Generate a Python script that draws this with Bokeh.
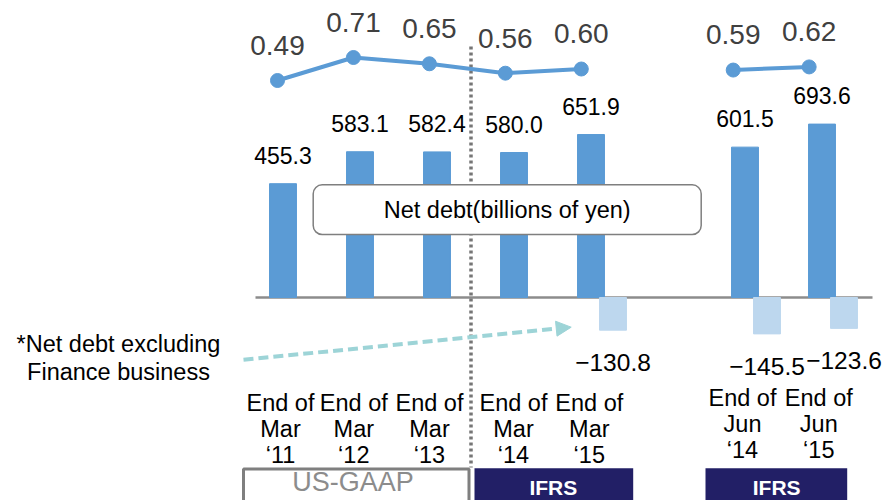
import math
from bokeh.plotting import figure
from bokeh.models import Range1d, BoxAnnotation, Label, Arrow, NormalHead
from bokeh.core.properties import value
from bokeh.embed import file_html
from bokeh.resources import INLINE

# ---------------- data ----------------
cat_index = [0, 1, 2, 3, 4, 6, 7]            # slot 5 is an empty gap
cat_months = ["Mar", "Mar", "Mar", "Mar", "Mar", "Jun", "Jun"]
cat_years = ["‘11", "‘12", "‘13", "‘14", "‘15", "‘14", "‘15"]
net_debt = [455.3, 583.1, 582.4, 580.0, 651.9, 601.5, 693.6]
excl_index = [4, 6, 7]
excl_fin = [-130.8, -145.5, -123.6]
ratio = [0.49, 0.71, 0.65, 0.56, 0.60, 0.59, 0.62]

FNAME = "Liberation Sans"
FONT = value(FNAME)
BLUE = "#5B9BD5"
LIGHT = "#BDD7EE"
NAVY = "#221F66"
GRAY = "#8C8C8C"

W, H = 886, 500
# pixel mapping helpers (used only for decorations)
BAR_X0, BAR_DX = 282.5, 77.0
BASE_PY, PX_PER_UNIT = 297.0, 0.25


def px2x(px):
    return (px - BAR_X0) / BAR_DX


def py2y(py):
    return (BASE_PY - py) / PX_PER_UNIT


def bfix(fs):
    # renderer places alphabetic baseline slightly low; compensate
    return 0.36 * fs


x0 = -BAR_X0 / BAR_DX
p = figure(width=W, height=H, output_backend="svg", toolbar_location=None,
           x_axis_type=None, y_axis_type=None, min_border=0,
           x_range=Range1d(x0, x0 + W / BAR_DX),
           y_range=Range1d(-(H - BASE_PY) / PX_PER_UNIT, BASE_PY / PX_PER_UNIT))
p.grid.visible = False
p.outline_line_color = None
p.background_fill_color = "white"
p.border_fill_color = "white"

# ratio scale (line), slightly different horizontal spacing
LX0, LDX = 277.0, 75.95
lx0 = -LX0 / LDX
p.extra_x_ranges = {"lx": Range1d(lx0, lx0 + W / LDX)}
R0_PY, R_PX = 80.0, 104.5
rtop = 0.49 + R0_PY / R_PX
p.extra_y_ranges = {"r": Range1d(rtop - H / R_PX, rtop)}

# baseline
p.segment(x0=[px2x(255)], y0=[0], x1=[px2x(872)], y1=[0], line_color=GRAY, line_width=2.5)

# bars
p.vbar(x=cat_index, top=net_debt, bottom=0, width=0.35, color=BLUE)
excl_x = [i + 22 / BAR_DX for i in excl_index]
p.vbar(x=excl_x, top=0, bottom=excl_fin, width=0.35, color=LIGHT)

# separator (dotted)
p.segment(x0=[px2x(470.5)], y0=[py2y(46)], x1=[px2x(470.5)], y1=[py2y(467)],
          line_color="#767676", line_width=3.5, line_dash="3 3")

# bar labels
p.text(x=cat_index, y=net_debt, text=[f"{v:.1f}" for v in net_debt],
       text_align="center", text_baseline="alphabetic", y_offset=-20 - bfix(23),
       text_font=FONT, text_font_size="23px", text_color="black")
p.text(x=excl_x, y=excl_fin, text=[f"−{abs(v):.1f}" for v in excl_fin],
       text_align="center", text_baseline="alphabetic", y_offset=41 - bfix(24.5),
       text_font=FONT, text_font_size="24.5px", text_color="black")

# ratio line with a gap at slot 5
lx, ly = [], []
prev = None
for i, r in zip(cat_index, ratio):
    if prev is not None and i - prev > 1:
        lx.append(math.nan)
        ly.append(math.nan)
    lx.append(i)
    ly.append(r)
    prev = i
p.line(x=lx, y=ly, x_range_name="lx", y_range_name="r", line_color=BLUE, line_width=4)
p.scatter(x=cat_index, y=ratio, x_range_name="lx", y_range_name="r",
          marker="circle", size=14, color=BLUE)
p.text(x=cat_index, y=ratio, x_range_name="lx", y_range_name="r",
       text=[f"{v:.2f}" for v in ratio], text_align="center", text_baseline="alphabetic",
       y_offset=-25 - bfix(28), text_font=FONT, text_font_size="28px", text_color="#404040")

# category labels
cx_off = [-2.5, -6.2, -7.5, -0.5, -1.7, -2.5, -3.2]
row_shift = [0 if m == "Mar" else -5 for m in cat_months]
for k, rows in enumerate([["End of"] * len(cat_index), cat_months, cat_years]):
    p.text(x=cat_index, y=[0] * len(cat_index), text=rows,
           x_offset=cx_off, y_offset=[113.5 + 26 * k + s - bfix(23.5) for s in row_shift],
           text_align="center", text_baseline="alphabetic",
           text_font=FONT, text_font_size="23.5px", text_color="black")


def label(x_px, y_px, text, fs, **kw):
    p.add_layout(Label(x=px2x(x_px), y=py2y(y_px - bfix(fs)), text=text, text_align="center",
                       text_baseline="alphabetic", text_font=FNAME,
                       text_font_size=f"{fs}px", **kw))


# legend-like box
p.add_layout(BoxAnnotation(left=px2x(312.7), right=px2x(700.7), top=py2y(184.3), bottom=py2y(234),
                           fill_color="white", fill_alpha=1, line_color="#7F7F7F",
                           line_alpha=1, line_width=1.5, border_radius=9))
label(506.7, 218.3, "Net debt(billions of yen)", 23.5, text_color="black")

# note and arrow
label(118, 351.7, "*Net debt excluding", 23.5, text_color="black")
label(118, 380.0, "Finance business", 23.5, text_color="black")
TEAL = "#9DD4D7"
p.add_layout(Arrow(x_start=px2x(243), y_start=py2y(359.3), x_end=px2x(570.7), y_end=py2y(326.7),
                   line_color=TEAL, line_width=4, line_dash="10 5",
                   end=NormalHead(size=15, fill_color=TEAL, line_color=TEAL, line_width=1)))

# accounting standard boxes
p.add_layout(BoxAnnotation(left=px2x(243), right=px2x(468.5), top=py2y(468.5), bottom=py2y(520),
                           fill_color="white", fill_alpha=1, line_color="#7F7F7F",
                           line_alpha=1, line_width=3))
label(352.5, 491, "US-GAAP", 27, text_color="#8C8C8C")
for l, r, c in [(474, 632.7, 552.8), (705, 846.7, 776.2)]:
    p.add_layout(BoxAnnotation(left=px2x(l), right=px2x(r), top=py2y(467.7), bottom=py2y(520),
                               fill_color=NAVY, fill_alpha=1, line_color=None))
    label(c, 494.3, "IFRS", 21, text_color="white", text_font_style="bold")

open("out.html", "w").write(file_html(p, INLINE))
